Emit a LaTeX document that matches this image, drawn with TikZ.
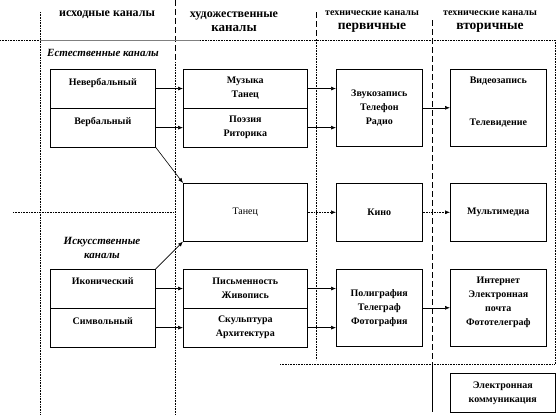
\documentclass[tikz,border=0pt]{standalone}
\usepackage{fontspec}
\setmainfont{Liberation Serif}
\usetikzlibrary{arrows.meta, positioning}

\newcommand{\hdsize}[1]{\fontsize{#1}{14}\selectfont}

\begin{document}
\begin{tikzpicture}[x=1pt, y=-1pt,
    every node/.style={font=\fontsize{10}{14}\selectfont\bfseries, align=center, inner sep=0pt},
    box/.style={draw, line width=0.6pt, anchor=north west},
    half/.style={box, minimum height=38.5pt},
    grp/.style={font=\fontsize{11}{14}\selectfont\bfseries\itshape},
    hd/.style={font=\fontsize{12}{14}\selectfont\bfseries},
    arr/.style={-{Latex[length=5pt,width=4pt]}, line width=0.6pt},
    sep/.style={line width=0.6pt, densely dotted},
    dsep/.style={line width=0.6pt, dash pattern=on 6pt off 3pt}]
  \useasboundingbox (0,0) rectangle (558,415);

  % column and row separators
  \draw[sep] (40,12) -- (40,415);
  \draw[dsep] (175,0) -- (175,62);
  \draw[sep] (175,62) -- (175,415);
  \draw[dsep] (316,12) -- (316,40);
  \draw[sep] (316,40) -- (316,360);
  \draw[dsep] (432,20) -- (432,364);
  \draw[line width=0.6pt] (432,364) -- (432,412);
  \draw[sep] (555,40) -- (555,364);
  \draw[sep] (0,40) -- (40,40);
  \draw[line width=0.8pt, gray] (40,40) -- (200,40);
  \draw[sep] (200,40) -- (555,40);
  \draw[sep] (13,212) -- (175,212);
  \draw[sep] (280,364) -- (555,364);

  % headings
  \node[hd] (hsrc) at (107,15) {исходные каналы};
  \node[hd] (hart) at (234,22) {художественные\\{\hdsize{13}каналы}};
  \node[hd] (htech1) at (372,22) {{\hdsize{10}технические каналы}\\{\hdsize{13.5}первичные}};
  \node[hd] (htech2) at (490,22) {{\hdsize{10}технические каналы}\\{\hdsize{13.5}вторичные}};
  \node[grp] (gnat) at (103,53) {Естественные каналы};
  \node[grp] (gart) at (102,248) {Искусственные\\каналы};

  % natural channels
  \node[half, minimum width=105pt] (nonverb) at (50,69) {Невербальный\\ \mbox{}};
  \node[half, minimum width=105pt, below=0pt of nonverb] (verb) {Вербальный\\ \mbox{}};
  \node[half, minimum width=124pt] (music) at (183,69) {Музыка\\Танец};
  \node[half, minimum width=124pt, below=0pt of music] (poetry) {Поэзия\\Риторика};
  \node[box, minimum width=86pt, minimum height=77pt] (sound) at (336,69) {Звукозапись\\Телефон\\Радио};
  \node[box, minimum width=96pt, minimum height=77pt] (video) at (450,69) {Видеозапись\\[28pt]Телевидение\\ \mbox{}};

  % middle row
  \node[box, minimum width=124pt, minimum height=58pt, font=\fontsize{10}{14}\selectfont] (dance) at (183,183) {Танец};
  \node[box, minimum width=86pt, minimum height=58pt] (cinema) at (336,183) {Кино};
  \node[box, minimum width=96pt, minimum height=58pt] (multi) at (450,183) {Мультимедиа};

  % artificial channels
  \node[half, minimum width=105pt] (icon) at (50,269) {Иконический\\ \mbox{}};
  \node[half, minimum width=105pt, below=0pt of icon] (symb) {Символьный\\ \mbox{}};
  \node[half, minimum width=124pt] (writing) at (183,269) {Письменность\\Живопись};
  \node[half, minimum width=124pt, below=0pt of writing] (sculpt) {Скульптура\\Архитектура};
  \node[box, minimum width=86pt, minimum height=77pt] (print) at (336,269) {Полиграфия\\Телеграф\\Фотография};
  \node[box, minimum width=96pt, minimum height=77pt] (inet) at (450,269) {Интернет\\Электронная\\почта\\Фототелеграф\\ \mbox{}};
  \node[box, minimum width=105pt, minimum height=39pt] (ecomm) at (450,373) {Электронная\\коммуникация};

  \draw[arr] (nonverb.east) -- (music.west);
  \draw[arr] (verb.east) -- (poetry.west);
  \draw[arr] (verb.south east) -- (dance.north west);
  \draw[arr] (music.east) -- (music.east -| sound.west);
  \draw[arr] (poetry.east) -- (poetry.east -| sound.west);
  \draw[arr] (sound.east) -- (video.west);
  \draw[arr, densely dotted] (dance.east) -- (cinema.west);
  \draw[arr, densely dotted] (cinema.east) -- (multi.west);
  \draw[arr] (icon.north east) -- (dance.south west);
  \draw[arr] (icon.east) -- (writing.west);
  \draw[arr] (symb.east) -- (sculpt.west);
  \draw[arr] (writing.east) -- (writing.east -| print.west);
  \draw[arr] (sculpt.east) -- (sculpt.east -| print.west);
  \draw[arr] (print.east) -- (inet.west);
\end{tikzpicture}
\end{document}
